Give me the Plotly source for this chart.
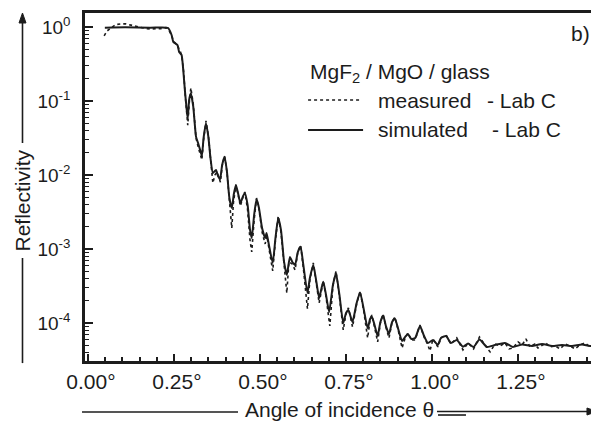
import plotly.graph_objects as go

# ---- data (angle in degrees, reflectivity) ----
sim_angle = [0.049, 0.108, 0.180, 0.227, 0.233, 0.243, 0.248, 0.260, 0.265, 0.272,
             0.277, 0.282, 0.287, 0.290, 0.294, 0.299, 0.306, 0.314, 0.320, 0.326,
             0.331, 0.336, 0.343, 0.350, 0.356, 0.363, 0.372, 0.378, 0.384, 0.390,
             0.397, 0.404, 0.411, 0.418, 0.424, 0.430, 0.436, 0.443, 0.451, 0.456,
             0.464, 0.471, 0.476, 0.483, 0.490, 0.497, 0.506, 0.515, 0.519, 0.526,
             0.537, 0.545, 0.553, 0.561, 0.570, 0.578, 0.587, 0.594, 0.602, 0.610,
             0.618, 0.626, 0.638, 0.645, 0.655, 0.664, 0.672, 0.679, 0.684, 0.692,
             0.701, 0.712, 0.721, 0.731, 0.742, 0.750, 0.757, 0.763, 0.769, 0.781,
             0.791, 0.802, 0.813, 0.820, 0.825, 0.833, 0.842, 0.850, 0.858, 0.866,
             0.875, 0.884, 0.892, 0.901, 0.913, 0.922, 0.930, 0.940, 0.951, 0.965,
             0.977, 0.988, 1.003, 1.017, 1.026, 1.041, 1.055, 1.072, 1.090, 1.105,
             1.121, 1.138, 1.160, 1.183, 1.212, 1.235, 1.262, 1.291, 1.320, 1.349,
             1.378, 1.407, 1.436, 1.459, 1.483]
sim_refl = [0.98, 0.99, 0.98, 0.98, 0.97, 0.78, 0.63, 0.57, 0.46, 0.42,
            0.26, 0.134, 0.0755, 0.0583, 0.103, 0.127, 0.0838, 0.033, 0.027, 0.0218,
            0.0181, 0.0316, 0.050, 0.0326, 0.017, 0.0106, 0.0117, 0.0097, 0.0088, 0.0137,
            0.0177, 0.011, 0.00489, 0.00358, 0.00554, 0.00733, 0.00571, 0.00419, 0.0052, 0.00571,
            0.00393, 0.00181, 0.00141, 0.00288, 0.00474, 0.00358, 0.00192, 0.00141, 0.00164, 0.00113,
            0.000647, 0.00141, 0.00262, 0.00181, 0.000668, 0.000446, 0.00078, 0.000668, 0.000608, 0.00091,
            0.00107, 0.000608, 0.000254, 0.000406, 0.000608, 0.000358, 0.000218, 0.000297, 0.000361, 0.000239,
            0.000141, 0.000326, 0.00047, 0.000239, 0.0001, 0.000136, 0.00015, 0.000124, 0.000103, 0.000186,
            0.000258, 0.00015, 8.43e-5, 0.000113, 0.000122, 9.4e-5, 6.67e-5, 0.000103, 0.000126, 9.1e-5,
            7.1e-5, 0.000103, 0.000115, 8.55e-5, 5.71e-5, 6.47e-5, 7.1e-5, 6.08e-5, 6.27e-5, 9.1e-5,
            6.67e-5, 5.37e-5, 5.89e-5, 5.04e-5, 6.27e-5, 6.67e-5, 5.37e-5, 5.89e-5, 4.78e-5, 5.28e-5,
            4.74e-5, 5.98e-5, 4.74e-5, 5.04e-5, 5.37e-5, 4.74e-5, 5.12e-5, 4.89e-5, 5.2e-5, 4.89e-5,
            5.04e-5, 4.89e-5, 5.12e-5, 4.89e-5, 5.04e-5]

meas_angle = [0.047, 0.055, 0.067, 0.081, 0.096, 0.110, 0.125, 0.140, 0.154, 0.169,
              0.183, 0.198, 0.212, 0.227, 0.234, 0.243, 0.250, 0.259, 0.269, 0.273,
              0.278, 0.282, 0.286, 0.290, 0.294, 0.299, 0.306, 0.314, 0.321, 0.327,
              0.331, 0.336, 0.343, 0.350, 0.358, 0.363, 0.369, 0.375, 0.381, 0.385,
              0.390, 0.397, 0.404, 0.411, 0.418, 0.423, 0.430, 0.436, 0.443, 0.451,
              0.456, 0.464, 0.471, 0.476, 0.483, 0.490, 0.497, 0.506, 0.515, 0.520,
              0.526, 0.537, 0.545, 0.553, 0.561, 0.570, 0.578, 0.584, 0.594, 0.602,
              0.610, 0.618, 0.626, 0.638, 0.645, 0.655, 0.664, 0.672, 0.679, 0.684,
              0.692, 0.703, 0.712, 0.721, 0.731, 0.742, 0.750, 0.757, 0.763, 0.769,
              0.781, 0.791, 0.802, 0.813, 0.820, 0.825, 0.833, 0.842, 0.850, 0.858,
              0.866, 0.875, 0.884, 0.892, 0.901, 0.913, 0.922, 0.930, 0.940, 0.951,
              0.965, 0.977, 0.988, 0.994, 1.003, 1.017, 1.026, 1.041, 1.055, 1.072,
              1.090, 1.105, 1.121, 1.138, 1.160, 1.169, 1.183, 1.198, 1.212, 1.224,
              1.235, 1.250, 1.262, 1.273, 1.285, 1.299, 1.308, 1.320, 1.331, 1.343,
              1.358, 1.372, 1.387, 1.401, 1.416, 1.430, 1.445, 1.459, 1.474, 1.483]
meas_refl = [0.76, 0.88, 0.97, 1.08, 1.10, 1.10, 1.06, 1.02, 0.98, 0.95,
             0.94, 0.94, 0.95, 0.98, 0.94, 0.76, 0.63, 0.57, 0.46, 0.39,
             0.25, 0.132, 0.071, 0.047, 0.091, 0.15, 0.091, 0.0316, 0.0232, 0.0175,
             0.016, 0.0297, 0.0537, 0.0337, 0.015, 0.0078, 0.01, 0.011, 0.0091, 0.0080,
             0.0132, 0.0181, 0.011, 0.00393, 0.00192, 0.00432, 0.00733, 0.00554, 0.00381, 0.0052,
             0.00589, 0.00337, 0.00132, 0.00091, 0.00247, 0.00489, 0.00347, 0.0017, 0.00117, 0.0015,
             0.00097, 0.000504, 0.00132, 0.00279, 0.0017, 0.000554, 0.000254, 0.000668, 0.000627, 0.00052,
             0.00091, 0.00113, 0.000554, 0.000155, 0.000381, 0.000647, 0.000337, 0.000186, 0.000279, 0.00037,
             0.000225, 9.1e-5, 0.000316, 0.000504, 0.000225, 8.04e-5, 0.000132, 0.00016, 0.00012, 8.83e-5,
             0.000181, 0.00027, 0.000141, 6.27e-5, 0.00011, 0.000128, 8.83e-5, 5.54e-5, 0.0001, 0.000132,
             8.83e-5, 6.27e-5, 0.000103, 0.00012, 8.3e-5, 4.59e-5, 6.27e-5, 7.33e-5, 5.89e-5, 5.89e-5,
             9.4e-5, 6.47e-5, 5.04e-5, 4.19e-5, 6.08e-5, 4.74e-5, 6.27e-5, 6.89e-5, 5.2e-5, 6.27e-5,
             4.32e-5, 5.37e-5, 4.46e-5, 6.47e-5, 4.59e-5, 4.06e-5, 5.2e-5, 4.89e-5, 5.37e-5, 4.46e-5,
             4.59e-5, 5.54e-5, 5.04e-5, 6.08e-5, 4.74e-5, 5.2e-5, 4.59e-5, 5.04e-5, 5.37e-5, 4.74e-5,
             4.89e-5, 4.46e-5, 5.2e-5, 4.89e-5, 4.46e-5, 5.04e-5, 5.37e-5, 4.74e-5, 5.04e-5, 5.04e-5]

x_tick_vals = [0.00, 0.25, 0.50, 0.75, 1.00, 1.25]
x_tick_text = ["0.00", "0.25", "0.50", "0.75", "1.00", "1.25"]
y_tick_vals = [1, 0.1, 0.01, 0.001, 0.0001]
y_tick_text = ["10<sup>0</sup>", "10<sup>-1</sup>", "10<sup>-2</sup>", "10<sup>-3</sup>", "10<sup>-4</sup>"]

sample_name = "MgF<sub>2</sub> / MgO / glass"
meas_name = "measured"
sim_name = "simulated"
lab_name = "- Lab C"
panel_label = "b)"
x_title = "Angle of incidence θ"
y_title = "Reflectivity"

n = min(len(sim_angle), len(sim_refl))
m = min(len(meas_angle), len(meas_refl))

INK = "#1c1c1c"
FONT = "Liberation Sans, Arial, Helvetica, sans-serif"

fig = go.Figure()
fig.add_trace(go.Scatter(x=meas_angle[:m], y=meas_refl[:m], mode="lines",
                         line=dict(color=INK, width=1.6, dash="dot"),
                         name=meas_name + " " + lab_name, showlegend=False))
fig.add_trace(go.Scatter(x=sim_angle[:n], y=sim_refl[:n], mode="lines",
                         line=dict(color=INK, width=2, shape="spline", smoothing=0.5),
                         name=sim_name + " " + lab_name, showlegend=False))

minor_y = [k * 10.0 ** e for e in range(-5, 1) for k in range(2, 10)]
minor_x = [i * 0.05 for i in range(0, 31)]

# the page body adds an 8px offset, so the figure is 8px smaller than the window
fig.update_layout(
    width=591, height=413,
    margin=dict(l=77, r=0, t=5, b=60),
    paper_bgcolor="white", plot_bgcolor="white",
    font=dict(family=FONT, color=INK, size=21),
    showlegend=False,
    xaxis=dict(
        range=[-0.0087, 1.4855], showgrid=False, zeroline=False,
        showline=True, linecolor=INK, linewidth=2.5, mirror=True,
        tickmode="array", tickvals=x_tick_vals,
        ticktext=["\u00a0" + t + "°" for t in x_tick_text],
        ticks="inside", ticklen=7, tickwidth=2, tickcolor=INK,
        tickfont=dict(size=21, family=FONT, color=INK),
        minor=dict(tickmode="array", tickvals=minor_x, ticks="inside",
                   ticklen=4, tickwidth=1.5, tickcolor=INK),
    ),
    yaxis=dict(
        type="log", range=[-4.514, 0.189], showgrid=False, zeroline=False,
        showline=True, linecolor=INK, linewidth=2.5, mirror=False,
        tickmode="array", tickvals=y_tick_vals, ticktext=y_tick_text,
        ticks="inside", ticklen=8, tickwidth=2, tickcolor=INK,
        tickfont=dict(size=19, family=FONT, color=INK),
        ticklabelstandoff=8,
        minor=dict(tickmode="array", tickvals=minor_y, ticks="inside",
                   ticklen=4, tickwidth=1.2, tickcolor=INK),
    ),
)

# ---- legend drawn as text + sample lines ----
def label(text, x, y, **kw):
    d = dict(text=text, x=x, y=y, xref="paper", yref="paper", xanchor="left",
             yanchor="middle", showarrow=False, font=dict(size=21))
    d.update(kw)
    return d

ann = [
    label(sample_name, 0.434, 0.828),
    label(meas_name, 0.566, 0.75),
    label(lab_name, 0.778, 0.75),
    label(sim_name, 0.566, 0.664),
    label(lab_name, 0.788, 0.664),
    label(panel_label, 0.9416, 0.9425),
    label(x_title, 0.496, -0.138, xanchor="center"),
    label(y_title, -0.1216, 0.4626, xanchor="center", textangle=-90),
]
fig.update_layout(annotations=ann)

line_style = dict(color=INK, width=1.6)
shapes = [
    # legend sample lines
    dict(type="line", xref="paper", yref="paper", x0=0.434, x1=0.539, y0=0.75, y1=0.75,
         line=dict(color=INK, width=1.6, dash="dot")),
    dict(type="line", xref="paper", yref="paper", x0=0.434, x1=0.541, y0=0.664, y1=0.664,
         line=dict(color=INK, width=2)),
    # y title: arrow above text, line below text
    dict(type="line", xref="paper", yref="paper", x0=-0.1216, x1=-0.1216, y0=0.6264, y1=0.975,
         line=line_style),
    dict(type="path", xref="paper", yref="paper",
         path="M -0.1216 1.0 L -0.1284 0.9713 L -0.1148 0.9713 Z",
         fillcolor=INK, line=dict(color=INK, width=1)),
    dict(type="line", xref="paper", yref="paper", x0=-0.1216, x1=-0.1216, y0=0.296, y1=-0.006,
         line=line_style),
    # x title: line left of text, double line + arrow right of text
    dict(type="line", xref="paper", yref="paper", x0=-0.0058, x1=0.2977, y0=-0.1466, y1=-0.1466,
         line=line_style),
    dict(type="line", xref="paper", yref="paper", x0=0.6848, x1=0.978, y0=-0.1451, y1=-0.1451,
         line=line_style),
    dict(type="path", xref="paper", yref="paper",
         path="M 0.9961 -0.1451 L 0.9766 -0.1351 L 0.9766 -0.1552 Z",
         fillcolor=INK, line=dict(color=INK, width=1)),
    dict(type="line", xref="paper", yref="paper", x0=0.6868, x1=0.7412, y0=-0.1552, y1=-0.1552,
         line=line_style),
]
fig.update_layout(shapes=shapes)

fig.write_html("out.html")
